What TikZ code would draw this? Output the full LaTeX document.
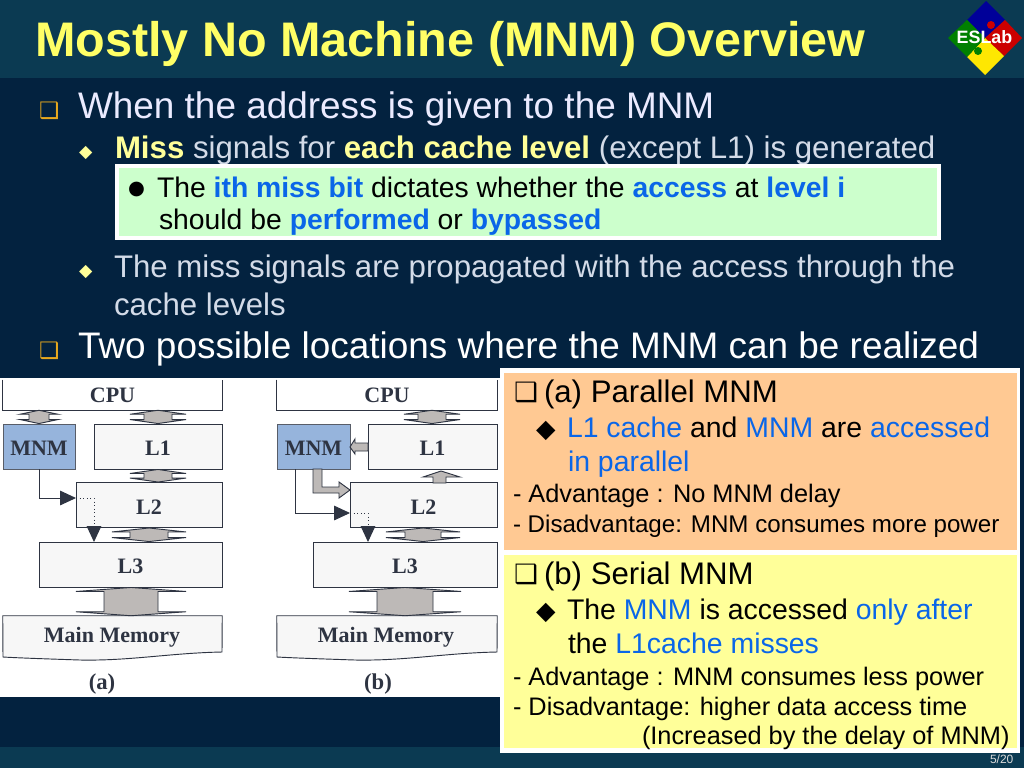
\documentclass[tikz,border=0pt]{standalone}
\usepackage{fontspec}
\setmainfont{Liberation Sans}
\newfontfamily\figfont{Liberation Serif}
\newfontfamily\symfont{DejaVu Sans}
\usetikzlibrary{arrows.meta}
\usetikzlibrary{calc}
\def\px{0.75pt}
\newcommand{\pxf}[1]{\fontsize{#1}{#1}\selectfont}
\definecolor{slidebg}{HTML}{03223F}
\definecolor{barbg}{HTML}{0B3A52}
\definecolor{titlecol}{HTML}{FFFF66}
\definecolor{hilite}{HTML}{FFFF99}
\definecolor{subcol}{HTML}{D3DBE8}
\definecolor{bulcol}{HTML}{E8A91E}
\definecolor{linkcol}{HTML}{0A66E8}
\definecolor{boxgreen}{HTML}{CCFFCC}
\definecolor{boxorange}{HTML}{FFC993}
\definecolor{boxyellow}{HTML}{FFFF99}
\definecolor{figink}{HTML}{2E3442}
\definecolor{mnmblue}{HTML}{96B4DC}
\definecolor{busgray}{HTML}{BDB9B7}
\tikzset{
  txt/.style={anchor=base west,inner sep=0pt,outer sep=0pt},
  lvlone/.style={txt,text=white,font=\pxf{27.7}},
  lvltwo/.style={txt,text=subcol,font=\pxf{23.4}},
  boxtxt/.style={txt,text=black,font=\pxf{21.25}},
  sidebig/.style={txt,text=black,font=\pxf{23.4}},
  sidemid/.style={txt,text=black,font=\pxf{21.3}},
  sidesmall/.style={txt,text=black,font=\pxf{19}},
  cachebox/.style={draw=figink,line width=0.7pt,fill=black!3,inner sep=0pt,
    minimum height=45*\px,text height=13.9pt,text depth=0pt,text=figink,font=\figfont\bfseries\pxf{16.5}},
  mnmbox/.style={cachebox,fill=mnmblue,draw=figink!80},
  figlabel/.style={inner sep=0pt,text=figink,font=\figfont\bfseries\pxf{16.5}},
  busline/.style={draw=figink,line width=0.7pt,fill=busgray},
  sigline/.style={draw=figink,line width=0.7pt,-{Triangle[length=12pt,width=11pt]}},
  missline/.style={draw=figink,line width=0.7pt,dotted},
}
\newcommand{\busarrow}[5]{% top node, bottom node, x, half shaft, half wing
  \coordinate (bt) at (#3,0 |- #1.south);
  \coordinate (bb) at (#3,0 |- #2.north);
  \draw[busline] ($(bt)+(-#5,4)$) -- (bt) -- ($(bt)+(#5,4)$) -- ($(bt)+(#4,4)$)
    -- ($(bb)+(#4,-4)$) -- ($(bb)+(#5,-4)$) -- (bb) -- ($(bb)+(-#5,-4)$)
    -- ($(bb)+(-#4,-4)$) -- ($(bt)+(-#4,4)$) -- cycle;
}
\begin{document}
\begin{tikzpicture}[x=0.75pt,y=-0.75pt]
  \useasboundingbox (0,0) rectangle (1024,768);
  % slide background
  \fill[slidebg] (0,0) rectangle (1024,768);
  \fill[barbg] (0,0) rectangle (1024,78);
  \fill[barbg] (0,747) rectangle (1024,768);
  \node[txt,text=titlecol,font=\bfseries\pxf{36.4}] (title) at (35,56) {Mostly No Machine (MNM) Overview};
  \node[txt,text=white!85!black,font=\pxf{9}] (pageno) at (990,763) {5/20};
  % logo
  \fill[blue!60!black] (986,1) -- (1005,20) -- (985,38) -- (967,20) -- cycle;
  \fill[red!80!black] (1005,20) -- (1022,38) -- (1004,56) -- (985,38) -- cycle;
  \fill[yellow!90!orange] (985,38) -- (1004,56) -- (985,75) -- (967,57) -- cycle;
  \fill[green!50!black] (967,20) -- (985,38) -- (967,57) -- (948,38) -- cycle;
  \fill[red!80!black] (991,25) circle (4);
  \fill[green!50!black] (978,51) circle (4);
  \node[inner sep=0pt,text=white,font=\bfseries\pxf{13.4}] (logo) at (984.5,37) {ESLab};
  % bullets
  \node[txt,text=white!92!blue,font=\pxf{27.7}] (lineA) at (78,118) {When the address is given to the MNM};
  \node[txt,text=bulcol,font=\symfont\pxf{17}] (bulA) at (39,118) {❑};
  \node[txt,text=hilite,font=\symfont\pxf{13}] (bulB) at (79,157) {◆};
  \node[lvltwo] (lineB) at (115,158) {\textcolor{hilite}{\textbf{Miss}} signals for \textcolor{hilite}{\textbf{each cache level}} (except L1) is generated};
  \draw[white,line width=3pt,fill=boxgreen] (117,166) rectangle (939,238);
  \node[boxtxt,font=\symfont\pxf{14.5}] (bulC) at (128,194) {●};
  \node[boxtxt] (lineC) at (157,197) {The \textcolor{linkcol}{\textbf{ith miss bit}} dictates whether the \textcolor{linkcol}{\textbf{access}} at \textcolor{linkcol}{\textbf{level i}}};
  \node[boxtxt] (lineD) at (159,229) {should be \textcolor{linkcol}{\textbf{performed}} or \textcolor{linkcol}{\textbf{bypassed}}};
  \node[txt,text=hilite,font=\symfont\pxf{13}] (bulD) at (79,276) {◆};
  \node[lvltwo] (lineE) at (114,277) {The miss signals are propagated with the access through the};
  \node[lvltwo] (lineF) at (114,315) {cache levels};
  \node[txt,text=bulcol,font=\symfont\pxf{17}] (bulE) at (39,358) {❑};
  \node[lvlone] (lineG) at (78,358) {Two possible locations where the MNM can be realized};
  % figure
  \fill[white] (0,378) rectangle (503,697);
  % figure (a)
  \node[figlabel,minimum width=219*\px,minimum height=30*\px] (cpuA) at (112.5,395) {CPU};
  \draw[figink,line width=0.7pt] (cpuA.north west) -- (cpuA.south west) -- (cpuA.south east) -- (cpuA.north east);
  \node[mnmbox,minimum width=72*\px] (mnmA) at (39,446.5) {MNM};
  \node[cachebox,minimum width=128*\px] (lonA) at (158,446.5) {L1};
  \node[cachebox,minimum width=146*\px] (ltwA) at (149,505) {L2};
  \node[cachebox,minimum width=183*\px] (lthA) at (130.5,564.5) {L3};
  \node[inner sep=0pt,minimum width=219*\px,minimum height=41*\px] (memA) at (112.5,636.5) {};
  \draw[figink,line width=0.7pt,fill=black!3] (memA.north west) -- (memA.north east) -- (222,652)
    .. controls (170,653) and (130,661) .. (80,660) .. controls (50,659) and (20,658) .. (3,657) -- cycle;
  \node[figlabel] (memtxtA) at (112,637) {Main Memory};
  \busarrow{cpuA}{mnmA}{39}{10}{19}
  \busarrow{cpuA}{lonA}{158}{14}{28}
  \busarrow{lonA}{ltwA}{158}{14}{28}
  \busarrow{ltwA}{lthA}{149}{19}{37}
  \busarrow{lthA}{memA}{131}{27}{55}
  \coordinate (missA) at (76,498);
  \coordinate (dropA) at (94,527);
  \coordinate (landA) at (94,542);
  \draw[sigline] (mnmA.south) |- (missA);
  \draw[missline] (missA) -| (dropA);
  \draw[sigline] (dropA) -- (landA);
  \node[figlabel,font=\figfont\bfseries\pxf{17}] (capA) at (102,684) {(a)};
  % figure (b)
  \node[figlabel,minimum width=220*\px,minimum height=30*\px] (cpuB) at (387,395) {CPU};
  \draw[figink,line width=0.7pt] (cpuB.north west) -- (cpuB.south west) -- (cpuB.south east) -- (cpuB.north east);
  \node[mnmbox,minimum width=73*\px] (mnmB) at (313.5,446.5) {MNM};
  \node[cachebox,minimum width=129*\px] (lonB) at (432.5,446.5) {L1};
  \node[cachebox,minimum width=147*\px] (ltwB) at (423.5,505) {L2};
  \node[cachebox,minimum width=184*\px] (lthB) at (405,564.5) {L3};
  \node[inner sep=0pt,minimum width=220*\px,minimum height=41*\px] (memB) at (387,636.5) {};
  \draw[figink,line width=0.7pt,fill=black!3] (memB.north west) -- (memB.north east) -- (497,652)
    .. controls (445,653) and (405,661) .. (355,660) .. controls (325,659) and (295,658) .. (277,657) -- cycle;
  \node[figlabel] (memtxtB) at (386,637) {Main Memory};
  \busarrow{cpuB}{lonB}{432}{14}{28}
  \busarrow{ltwB}{lthB}{423}{18}{37}
  \busarrow{lthB}{memB}{405}{28}{56}
  % single headed ones
  \draw[busline] (433,483) -- (433,477) -- (423,477) -- (441,471) -- (460,477) -- (446,477) -- (446,483) -- cycle;
  \draw[busline] (368,443) -- (355,443) -- (355,439) -- (350,447) -- (355,454) -- (355,451) -- (368,451) -- cycle;
  \draw[busline] (313,469) -- (322,469) -- (322,487) -- (339,487) -- (339,482) -- (350,490) -- (339,498) -- (339,493) -- (313,493) -- cycle;
  \coordinate (sigB) at (295,469);
  \coordinate (missB) at (350,513);
  \coordinate (dropB) at (368,527);
  \coordinate (landB) at (368,542);
  \draw[sigline] (sigB) |- (missB);
  \draw[missline] (missB) -| (dropB);
  \draw[sigline] (dropB) -- (landB);
  \node[figlabel,font=\figfont\bfseries\pxf{17}] (capB) at (378,684) {(b)};
  % side boxes
  \fill[white] (500,368) rectangle (1020,753);
  \fill[boxorange] (504,373) rectangle (1017,550);
  \fill[boxyellow] (504,555) rectangle (1017,748);
  \node[sidebig,font=\symfont\pxf{20}] (bulF) at (514,401) {❑};
  \node[sidebig] (sideA) at (544,402) {(a) Parallel MNM};
  \node[sidemid,font=\symfont\pxf{19}] (bulG) at (536,437) {◆};
  \node[sidemid] (sideB) at (567,437) {\textcolor{linkcol}{L1 cache} and \textcolor{linkcol}{MNM} are \textcolor{linkcol}{accessed}};
  \node[sidemid,text=linkcol] (sideC) at (568,471) {in parallel};
  \node[sidesmall] (sideD) at (513,502) {- Advantage : No MNM delay};
  \node[sidesmall,font=\pxf{18.1}] (sideE) at (513,532) {- Disadvantage: MNM consumes more power};
  \node[sidebig,font=\symfont\pxf{20}] (bulH) at (514,583) {❑};
  \node[sidebig] (sideF) at (544,584) {(b) Serial MNM};
  \node[sidemid,font=\symfont\pxf{19}] (bulI) at (536,619) {◆};
  \node[sidemid] (sideG) at (567,619) {The \textcolor{linkcol}{MNM} is accessed \textcolor{linkcol}{only after}};
  \node[sidemid] (sideH) at (568,653) {the \textcolor{linkcol}{L1cache misses}};
  \node[sidesmall] (sideI) at (513,685) {- Advantage : MNM consumes less power};
  \node[sidesmall] (sideJ) at (513,715) {- Disadvantage: higher data access time};
  \node[sidesmall] (sideK) at (642,744) {(Increased by the delay of MNM)};
\end{tikzpicture}
\end{document}
